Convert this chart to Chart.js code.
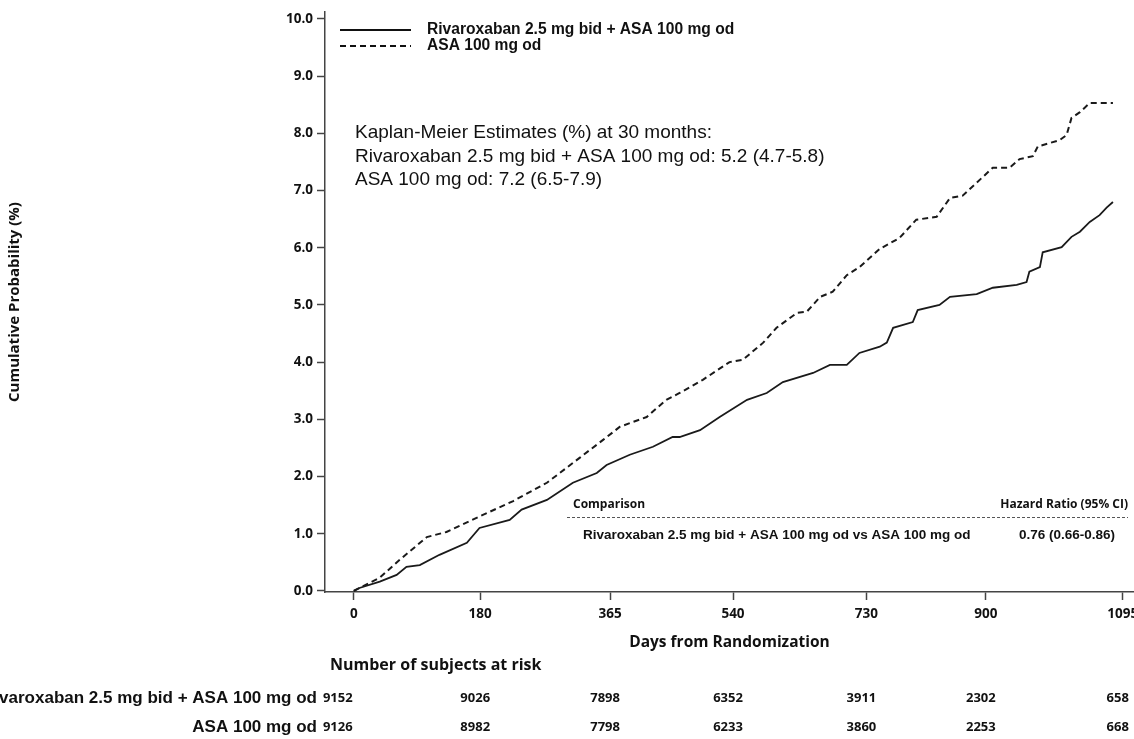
<!DOCTYPE html>
<html>
<head>
<meta charset="utf-8">
<script src="https://cdn.jsdelivr.net/npm/chart.js@4.4.1/dist/chart.umd.min.js"></script>
<style>
  html, body { margin: 0; padding: 0; background: #fff; }
  #wrap { width: 1134px; height: 739px; position: relative; }
</style>
</head>
<body>
<div id="wrap"><canvas id="kmChart"></canvas></div>
<script>
// Kaplan-Meier curves (days, cumulative %)
const rivaDays = [0, 8, 37, 61, 75, 94, 122, 161, 179, 222, 239, 275, 312, 346, 360, 393, 426, 454, 464, 493, 521, 560, 588, 611, 654, 678, 702, 720, 749, 759, 768, 796, 803, 834, 849, 887, 910, 944, 958, 962, 977, 981, 1008, 1022, 1034, 1048, 1062, 1072, 1081];
const rivaPct  = [0, 0.05, 0.16, 0.28, 0.42, 0.45, 0.63, 0.84, 1.1, 1.24, 1.42, 1.59, 1.89, 2.06, 2.2, 2.38, 2.52, 2.69, 2.69, 2.81, 3.04, 3.34, 3.46, 3.65, 3.81, 3.95, 3.95, 4.16, 4.27, 4.34, 4.6, 4.7, 4.91, 5.0, 5.14, 5.19, 5.3, 5.35, 5.4, 5.58, 5.66, 5.92, 6.01, 6.19, 6.28, 6.45, 6.57, 6.7, 6.8];

const asaDays = [0, 8, 37, 65, 104, 132, 179, 227, 275, 322, 355, 379, 417, 445, 464, 497, 535, 554, 583, 602, 631, 645, 664, 682, 702, 720, 749, 777, 801, 830, 849, 867, 896, 910, 934, 948, 967, 974, 1005, 1015, 1022, 1034, 1048, 1081];
const asaPct  = [0, 0.05, 0.23, 0.54, 0.94, 1.03, 1.3, 1.57, 1.89, 2.33, 2.64, 2.87, 3.04, 3.34, 3.46, 3.69, 4.0, 4.04, 4.34, 4.6, 4.86, 4.88, 5.14, 5.23, 5.52, 5.66, 5.98, 6.17, 6.49, 6.54, 6.87, 6.91, 7.24, 7.4, 7.4, 7.55, 7.6, 7.77, 7.88, 7.97, 8.27, 8.37, 8.53, 8.53];

const seriesLabels = ['Rivaroxaban 2.5 mg bid + ASA 100 mg od', 'ASA 100 mg od'];

const xTicks = [0, 180, 365, 540, 730, 900, 1095];
const yTicks = [0, 1, 2, 3, 4, 5, 6, 7, 8, 9, 10];

// number at risk table
const riskDays = [0, 180, 365, 540, 730, 900, 1095];
const rivaRisk = [9152, 9026, 7898, 6352, 3911, 2302, 658];
const asaRisk  = [9126, 8982, 7798, 6233, 3860, 2253, 668];

const kmText = [
  'Kaplan-Meier Estimates (%) at 30 months:',
  'Rivaroxaban 2.5 mg bid + ASA 100 mg od: 5.2 (4.7-5.8)',
  'ASA 100 mg od: 7.2 (6.5-7.9)'
];
const hrComparison = 'Rivaroxaban 2.5 mg bid + ASA 100 mg od vs ASA 100 mg od';
const hrValue = '0.76 (0.66-0.86)';

const ARIAL = '"Liberation Sans", Arial, sans-serif';
const OPEN = '"Open Sans", "DejaVu Sans", sans-serif';
const INK = '#111';

function toPoints(days, pct) {
  return days.map((d, i) => ({ x: d, y: pct[i] }));
}

// draws legend, text boxes and the at-risk table
const annotations = {
  id: 'annotations',
  afterDraw(chart) {
    const ctx = chart.ctx;
    const x = chart.scales.x;
    ctx.save();
    ctx.fillStyle = INK;
    ctx.strokeStyle = INK;

    // legend
    const legendY = [30, 46];
    chart.data.datasets.forEach((ds, i) => {
      ctx.beginPath();
      ctx.strokeStyle = INK;
      ctx.lineWidth = ds.borderWidth;
      ctx.setLineDash(ds.borderDash || []);
      ctx.moveTo(340, legendY[i]);
      ctx.lineTo(411, legendY[i]);
      ctx.stroke();
      ctx.setLineDash([]);
      ctx.font = 'bold 15.6px ' + ARIAL;
      ctx.textAlign = 'left';
      ctx.textBaseline = 'middle';
      ctx.fillText(ds.label, 427, legendY[i]);
    });

    // KM estimates
    ctx.font = '19px ' + ARIAL;
    kmText.forEach((t, i) => ctx.fillText(t, 355, 133 + i * 23.5));

    // hazard ratio box
    ctx.font = 'bold 12px ' + OPEN;
    ctx.fillText('Comparison', 573, 505);
    ctx.textAlign = 'right';
    ctx.fillText('Hazard Ratio (95% CI)', 1128, 505);
    ctx.beginPath();
    ctx.lineWidth = 1;
    ctx.strokeStyle = '#555';
    ctx.setLineDash([3, 2]);
    ctx.moveTo(567, 517.5);
    ctx.lineTo(1128, 517.5);
    ctx.stroke();
    ctx.setLineDash([]);
    ctx.font = 'bold 13.5px ' + ARIAL;
    ctx.textAlign = 'left';
    ctx.fillText(hrComparison, 583, 535);
    ctx.textAlign = 'right';
    ctx.fillText(hrValue, 1115, 535);

    // number at risk
    ctx.font = 'bold 16px ' + OPEN;
    ctx.textAlign = 'left';
    ctx.fillText('Number of subjects at risk', 330, 665);
    const rows = [[seriesLabels[0], rivaRisk, 698], [seriesLabels[1], asaRisk, 727]];
    rows.forEach(([label, vals, y]) => {
      ctx.font = 'bold 17px ' + ARIAL;
      ctx.textAlign = 'right';
      ctx.fillText(label, 317, y);
      ctx.font = 'bold 13px ' + OPEN;
      ctx.textAlign = 'center';
      vals.forEach((v, i) => {
        ctx.fillText(String(v), x.getPixelForValue(riskDays[i]) - (i === 0 ? 16 : 5), y);
      });
    });
    ctx.restore();
  }
};

new Chart(document.getElementById('kmChart'), {
  type: 'line',
  data: {
    datasets: [
      {
        label: seriesLabels[0],
        data: toPoints(rivaDays, rivaPct),
        borderColor: '#1a1a1a',
        borderWidth: 1.8,
        pointRadius: 0,
        tension: 0,
        fill: false
      },
      {
        label: seriesLabels[1],
        data: toPoints(asaDays, asaPct),
        borderColor: '#1a1a1a',
        borderWidth: 2,
        borderDash: [6, 4],
        pointRadius: 0,
        tension: 0,
        fill: false
      }
    ]
  },
  options: {
    responsive: true,
    maintainAspectRatio: false,
    animation: false,
    devicePixelRatio: 1,
    layout: { padding: { top: 12, bottom: 87, left: 0, right: 0 } },
    plugins: {
      legend: { display: false },
      tooltip: { enabled: false }
    },
    scales: {
      x: {
        type: 'linear',
        min: -41,
        max: 1111,
        afterBuildTicks: s => { s.ticks = xTicks.map(v => ({ value: v })); },
        afterFit: s => { s.height = 60; s.paddingLeft = 0; s.paddingRight = 0; },
        border: { display: true, color: '#444', width: 1.5 },
        grid: { display: true, drawOnChartArea: false, drawTicks: true, tickLength: 8, color: '#444', tickWidth: 1.5 },
        ticks: { color: INK, font: { family: OPEN, size: 13.5, weight: 'bold' }, padding: 6, maxRotation: 0, autoSkip: false, callback: v => String(v) },
        title: { display: true, text: 'Days from Randomization', color: INK, font: { family: OPEN, size: 15.5, weight: 'bold' }, padding: { top: 4, bottom: 0 } }
      },
      y: {
        min: -0.02,
        max: 10.12,
        afterBuildTicks: s => { s.ticks = yTicks.map(v => ({ value: v })); },
        afterFit: s => { s.width = 325; },
        border: { display: true, color: '#444', width: 1.5 },
        grid: { display: true, drawOnChartArea: false, drawTicks: true, tickLength: 8, color: '#444', tickWidth: 1.5 },
        ticks: { color: INK, font: { family: OPEN, size: 13.5, weight: 'bold' }, padding: 4, callback: v => v.toFixed(1) },
        title: { display: true, text: 'Cumulative Probability (%)', color: INK, font: { family: OPEN, size: 15, weight: 'bold' }, padding: { top: 6, bottom: 0 } }
      }
    }
  },
  plugins: [annotations]
});
</script>
</body>
</html>
